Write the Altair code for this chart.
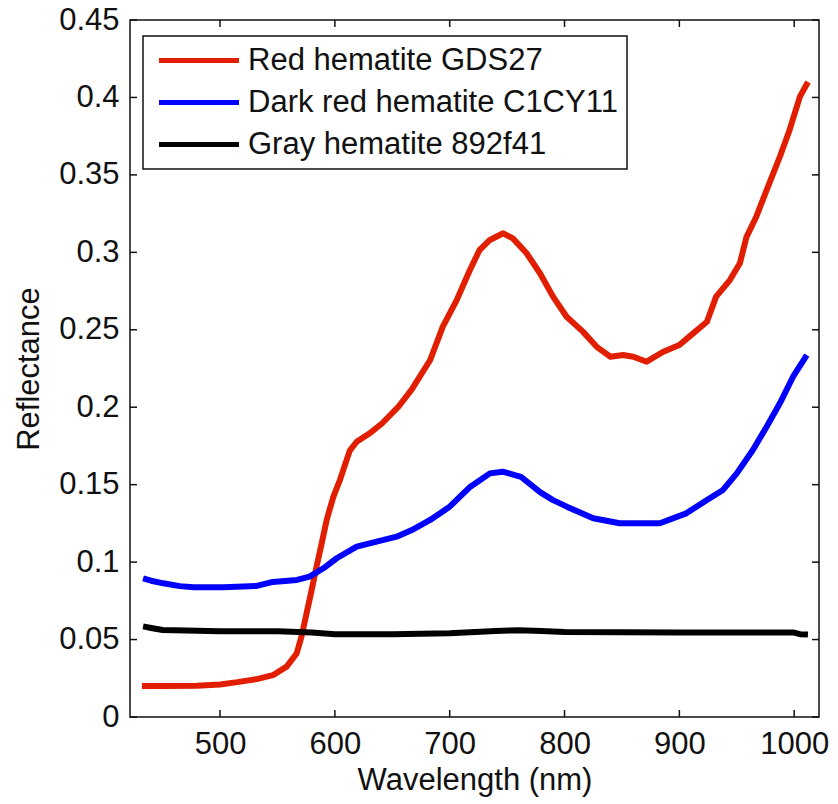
import altair as alt
import pandas as pd

FONT = "Liberation Sans"
FS = 31

series_names = ["Red hematite GDS27", "Dark red hematite C1CY11", "Gray hematite 892f41"]
series_colors = ["#E11E00", "#0000FF", "#000000"]

red_nm = [432, 450, 480, 500, 515, 532, 546, 558, 566.7, 571, 575.4, 579.8, 584, 588.5,
          592.8, 598.6, 604.4, 608, 613, 619, 630, 641, 655, 667, 683, 694, 706, 717.6,
          726, 735, 746.6, 755, 767, 778.6, 790, 801.8, 816, 828, 840, 851, 860, 871.5,
          886, 900, 912, 924, 932, 944, 952.7, 958.5, 967, 976, 987.5, 996, 1005, 1012]
red_refl = [0.0200, 0.0200, 0.0202, 0.0210, 0.0225, 0.0245, 0.0270, 0.0325, 0.041, 0.052,
            0.067, 0.082, 0.097, 0.112, 0.127, 0.142, 0.153, 0.161, 0.172, 0.1777, 0.1830,
            0.1895, 0.200, 0.2115, 0.2305, 0.2520, 0.2690, 0.2886, 0.3015, 0.3080, 0.3123,
            0.3090, 0.2994, 0.2865, 0.2714, 0.2584, 0.2488, 0.2390, 0.2326, 0.2337, 0.2326,
            0.2294, 0.2358, 0.2402, 0.2477, 0.2552, 0.2714, 0.2821, 0.2929, 0.310, 0.323,
            0.3402, 0.3617, 0.379, 0.4005, 0.410]

blue_nm = [433, 440, 450.6, 465, 477, 503, 532, 546, 567, 578, 590, 601.6, 619, 636.4,
           653.8, 667, 683, 700, 718, 735, 746, 762, 779, 790, 802, 825, 848, 883, 906,
           924, 938, 950, 964, 976, 987.5, 999, 1011]
blue_refl = [0.0895, 0.0880, 0.0863, 0.0845, 0.0837, 0.0837, 0.0846, 0.0872, 0.0885,
             0.0906, 0.0960, 0.1025, 0.1100, 0.1132, 0.1164, 0.1207, 0.1272, 0.1358,
             0.1487, 0.1573, 0.1584, 0.1551, 0.1450, 0.1400, 0.1358, 0.1283, 0.1251,
             0.1251, 0.1315, 0.1401, 0.1466, 0.1573, 0.1724, 0.1874, 0.2025, 0.2197, 0.2337]

black_nm = [433, 440, 450, 500, 550, 580, 600, 650, 700, 740, 760, 780, 800, 900, 1000, 1005, 1012]
black_refl = [0.0585, 0.0575, 0.0562, 0.0553, 0.0553, 0.0545, 0.0535, 0.0535, 0.0540,
              0.0555, 0.0560, 0.0555, 0.0548, 0.0545, 0.0545, 0.0535, 0.0532]

x_ticks = [500, 600, 700, 800, 900, 1000]
y_ticks = [0, 0.05, 0.1, 0.15, 0.2, 0.25, 0.3, 0.35, 0.4, 0.45]

rows = []
for name, xs, ys in zip(series_names, [red_nm, blue_nm, black_nm], [red_refl, blue_refl, black_refl]):
    for i, (a, b) in enumerate(zip(xs, ys)):
        rows.append({"series": name, "wavelength": a, "reflectance": b, "idx": i})
df = pd.DataFrame(rows)

W, H = 689, 697
TICK = 7

xscale = alt.Scale(domain=[421.6, 1021.6], nice=False, zero=False)
yscale = alt.Scale(domain=[0, 0.45], nice=False, zero=False)
cscale = alt.Scale(domain=series_names, range=series_colors)

xaxis = alt.Axis(values=x_ticks, title="Wavelength (nm)", ticks=False, tickSize=0, domain=False,
                 grid=False, labelFontSize=FS, labelPadding=12, labelFont=FONT, labelColor="#111",
                 format="d",
                 titleFont=FONT, titleFontSize=FS, titleFontWeight="normal", titleColor="#111",
                 titleY=48, titleBaseline="top")
yaxis = alt.Axis(values=y_ticks, title="Reflectance", ticks=False, tickSize=0, domain=False,
                 grid=False, labelFontSize=FS, labelPadding=11, labelFont=FONT, labelColor="#111",
                 format=".2~f",
                 titleFont=FONT, titleFontSize=FS, titleFontWeight="normal", titleColor="#111",
                 titleX=-101, titleY=H / 2, titleBaseline="middle", titleAngle=270)

legend = alt.Legend(orient="none", legendX=13, legendY=16, title=None, strokeColor="#111",
                    fillColor="white", padding=9, rowPadding=10, symbolType="M-8,0H8",
                    symbolSize=100, symbolStrokeWidth=5, symbolOffset=31.5, labelOffset=33.5,
                    labelFontSize=FS, labelFont=FONT, labelColor="#111", labelLimit=0)

layers = []
for k, name in enumerate(series_names):
    lyr = alt.Chart(df).transform_filter(alt.datum.series == name).mark_line(
        strokeWidth=6, strokeJoin="round", strokeCap="butt"
    ).encode(
        x=alt.X("wavelength:Q", scale=xscale, axis=xaxis),
        y=alt.Y("reflectance:Q", scale=yscale, axis=yaxis),
        color=alt.Color("series:N", scale=cscale, legend=legend),
        order="idx:Q",
    )
    layers.append(lyr)

xt = pd.DataFrame({"v": x_ticks})
yt = pd.DataFrame({"v": y_ticks})
tick_style = dict(color="#111", strokeWidth=1.5)
bottom_t = alt.Chart(xt).mark_rule(**tick_style).encode(
    x=alt.X("v:Q", scale=xscale, axis=xaxis), y=alt.value(H), y2=alt.value(H - TICK))
top_t = alt.Chart(xt).mark_rule(**tick_style).encode(
    x=alt.X("v:Q", scale=xscale, axis=xaxis), y=alt.value(0), y2=alt.value(TICK))
left_t = alt.Chart(yt).mark_rule(**tick_style).encode(
    y=alt.Y("v:Q", scale=yscale, axis=yaxis), x=alt.value(0), x2=alt.value(TICK))
right_t = alt.Chart(yt).mark_rule(**tick_style).encode(
    y=alt.Y("v:Q", scale=yscale, axis=yaxis), x=alt.value(W - TICK), x2=alt.value(W))

chart = alt.layer(*layers, bottom_t, top_t, left_t, right_t).properties(
    width=W, height=H,
    autosize=alt.AutoSizeParams(type="none"),
    padding={"left": 130, "top": 20, "right": 19, "bottom": 87},
    background="white",
).configure_view(
    stroke="#111", strokeWidth=1.5
).configure_legend(
    strokeWidth=1.5, cornerRadius=0
)

chart.save("out.html", embed_options={"renderer": "svg", "actions": False})
